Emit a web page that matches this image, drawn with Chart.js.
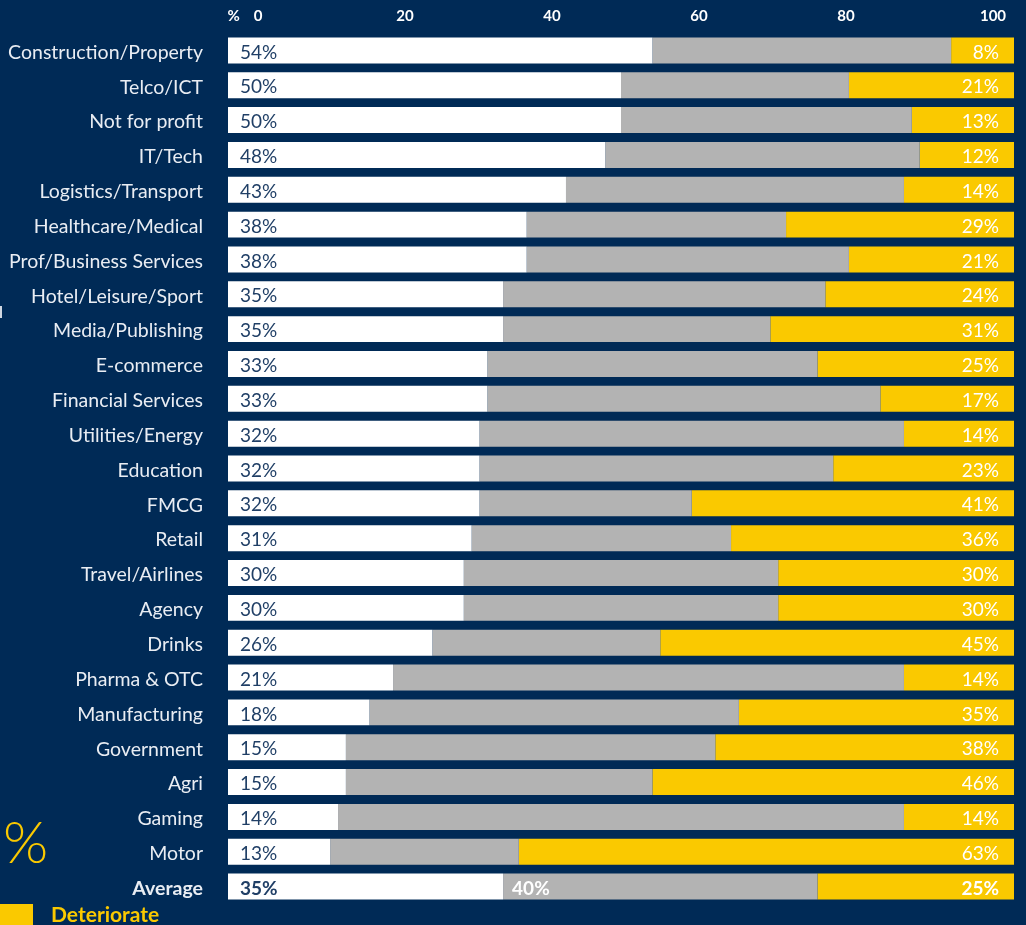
<!DOCTYPE html>
<html>
<head>
<meta charset="utf-8">
<script src="https://cdn.jsdelivr.net/npm/chart.js@4.4.1/dist/chart.umd.min.js"></script>
<style>
  html, body { margin: 0; padding: 0; background: #002a56; }
  canvas { display: block; }
</style>
</head>
<body>
<canvas id="chart" width="1026" height="925"></canvas>
<script>
const categories = [
  'Construction/Property', 'Telco/ICT', 'Not for profit', 'IT/Tech', 'Logistics/Transport',
  'Healthcare/Medical', 'Prof/Business Services', 'Hotel/Leisure/Sport', 'Media/Publishing',
  'E-commerce', 'Financial Services', 'Utilities/Energy', 'Education', 'FMCG', 'Retail',
  'Travel/Airlines', 'Agency', 'Drinks', 'Pharma & OTC', 'Manufacturing', 'Government',
  'Agri', 'Gaming', 'Motor', 'Average'
];
const improve     = [54, 50, 50, 48, 43, 38, 38, 35, 35, 33, 33, 32, 32, 32, 31, 30, 30, 26, 21, 18, 15, 15, 14, 13, 35];
const same        = [38, 29, 37, 40, 43, 33, 41, 41, 34, 42, 50, 54, 45, 27, 33, 40, 40, 29, 65, 47, 47, 39, 72, 24, 40];
const deteriorate = [ 8, 21, 13, 12, 14, 29, 21, 24, 31, 25, 17, 14, 23, 41, 36, 30, 30, 45, 14, 35, 38, 46, 14, 63, 25];
const axisTicks = [-3.3, 0, 20, 40, 60, 80, 100];

const NAVY = '#203f66';
const YELLOW = '#fac900';
const GREY = '#b3b3b3';
const last = categories.length - 1;

// value labels inside the bars + the cut-off bits on the left edge
const barLabels = {
  id: 'barLabels',
  afterDatasetsDraw(chart) {
    const { ctx } = chart;
    ctx.save();
    ctx.textBaseline = 'middle';

    chart.getDatasetMeta(0).data.forEach((bar, i) => {
      ctx.font = (i === last ? 'bold ' : '') + '19px Lato';
      ctx.fillStyle = NAVY;
      ctx.textAlign = 'left';
      ctx.fillText(improve[i] + '%', bar.base + 12, bar.y + 2);
    });

    const avgGrey = chart.getDatasetMeta(1).data[last];
    ctx.font = 'bold 19px Lato';
    ctx.fillStyle = '#fff';
    ctx.fillText(same[last] + '%', avgGrey.base + 9, avgGrey.y + 2);

    chart.getDatasetMeta(2).data.forEach((bar, i) => {
      ctx.font = (i === last ? 'bold ' : '') + '19px Lato';
      ctx.fillStyle = '#fff';
      ctx.textAlign = 'right';
      ctx.fillText(deteriorate[i] + '%', bar.x - 15, bar.y + 2);
    });

    // legend fragment at the bottom left
    ctx.fillStyle = YELLOW;
    ctx.fillRect(0, 904, 33, 21);
    ctx.textAlign = 'left';
    ctx.textBaseline = 'alphabetic';
    ctx.font = 'bold 21px Lato';
    ctx.fillText('Deteriorate', 51, 922);

    // big percent sign, clipped by the page edge
    ctx.font = '300 58px Lato';
    ctx.fillText('%', 3, 863);

    ctx.fillStyle = '#cfd6e0';
    ctx.fillRect(0, 306, 2, 12);
    ctx.restore();
  }
};

new Chart(document.getElementById('chart'), {
  type: 'bar',
  data: {
    labels: categories,
    datasets: [
      { label: 'Improve', data: improve, backgroundColor: '#ffffff', xAxisID: 'x' },
      { label: 'Stay the same', data: same, backgroundColor: GREY, xAxisID: 'x' },
      { label: 'Deteriorate', data: deteriorate, backgroundColor: YELLOW, xAxisID: 'x' },
    ],
  },
  options: {
    indexAxis: 'y',
    responsive: false,
    animation: false,
    devicePixelRatio: 1,
    layout: { padding: { top: 0, right: 12, bottom: 21, left: 0 } },
    datasets: { bar: { categoryPercentage: 1, barPercentage: 0.745, borderWidth: 0 } },
    plugins: { legend: { display: false }, tooltip: { enabled: false } },
    scales: {
      x: { stacked: true, min: 0, max: 100, display: false },
      x2: {
        position: 'top',
        min: -4.08,
        max: 102.86,
        grid: { display: false, drawTicks: false },
        border: { display: false },
        afterBuildTicks: s => { s.ticks = axisTicks.map(v => ({ value: v })); },
        afterFit: s => { s.height = 33; s.paddingLeft = 0; s.paddingRight = 0; },
        ticks: {
          color: '#ffffff',
          font: { family: 'Lato', weight: 'bold', size: 15 },
          padding: 8,
          maxRotation: 0,
          autoSkip: false,
          callback: v => (v < 0 ? '%' : v),
        },
      },
      y: {
        stacked: true,
        grid: { display: false, drawTicks: false },
        border: { display: false },
        afterFit: s => { s.width = 228; s.paddingTop = 0; s.paddingBottom = 0; },
        ticks: {
          color: '#e9edf3',
          padding: 25,
          labelOffset: 2,
          autoSkip: false,
          font: c => ({ family: 'Lato', size: 19.5, weight: c.index === last ? 'bold' : 'normal' }),
        },
      },
    },
  },
  plugins: [barLabels],
});
</script>
</body>
</html>
